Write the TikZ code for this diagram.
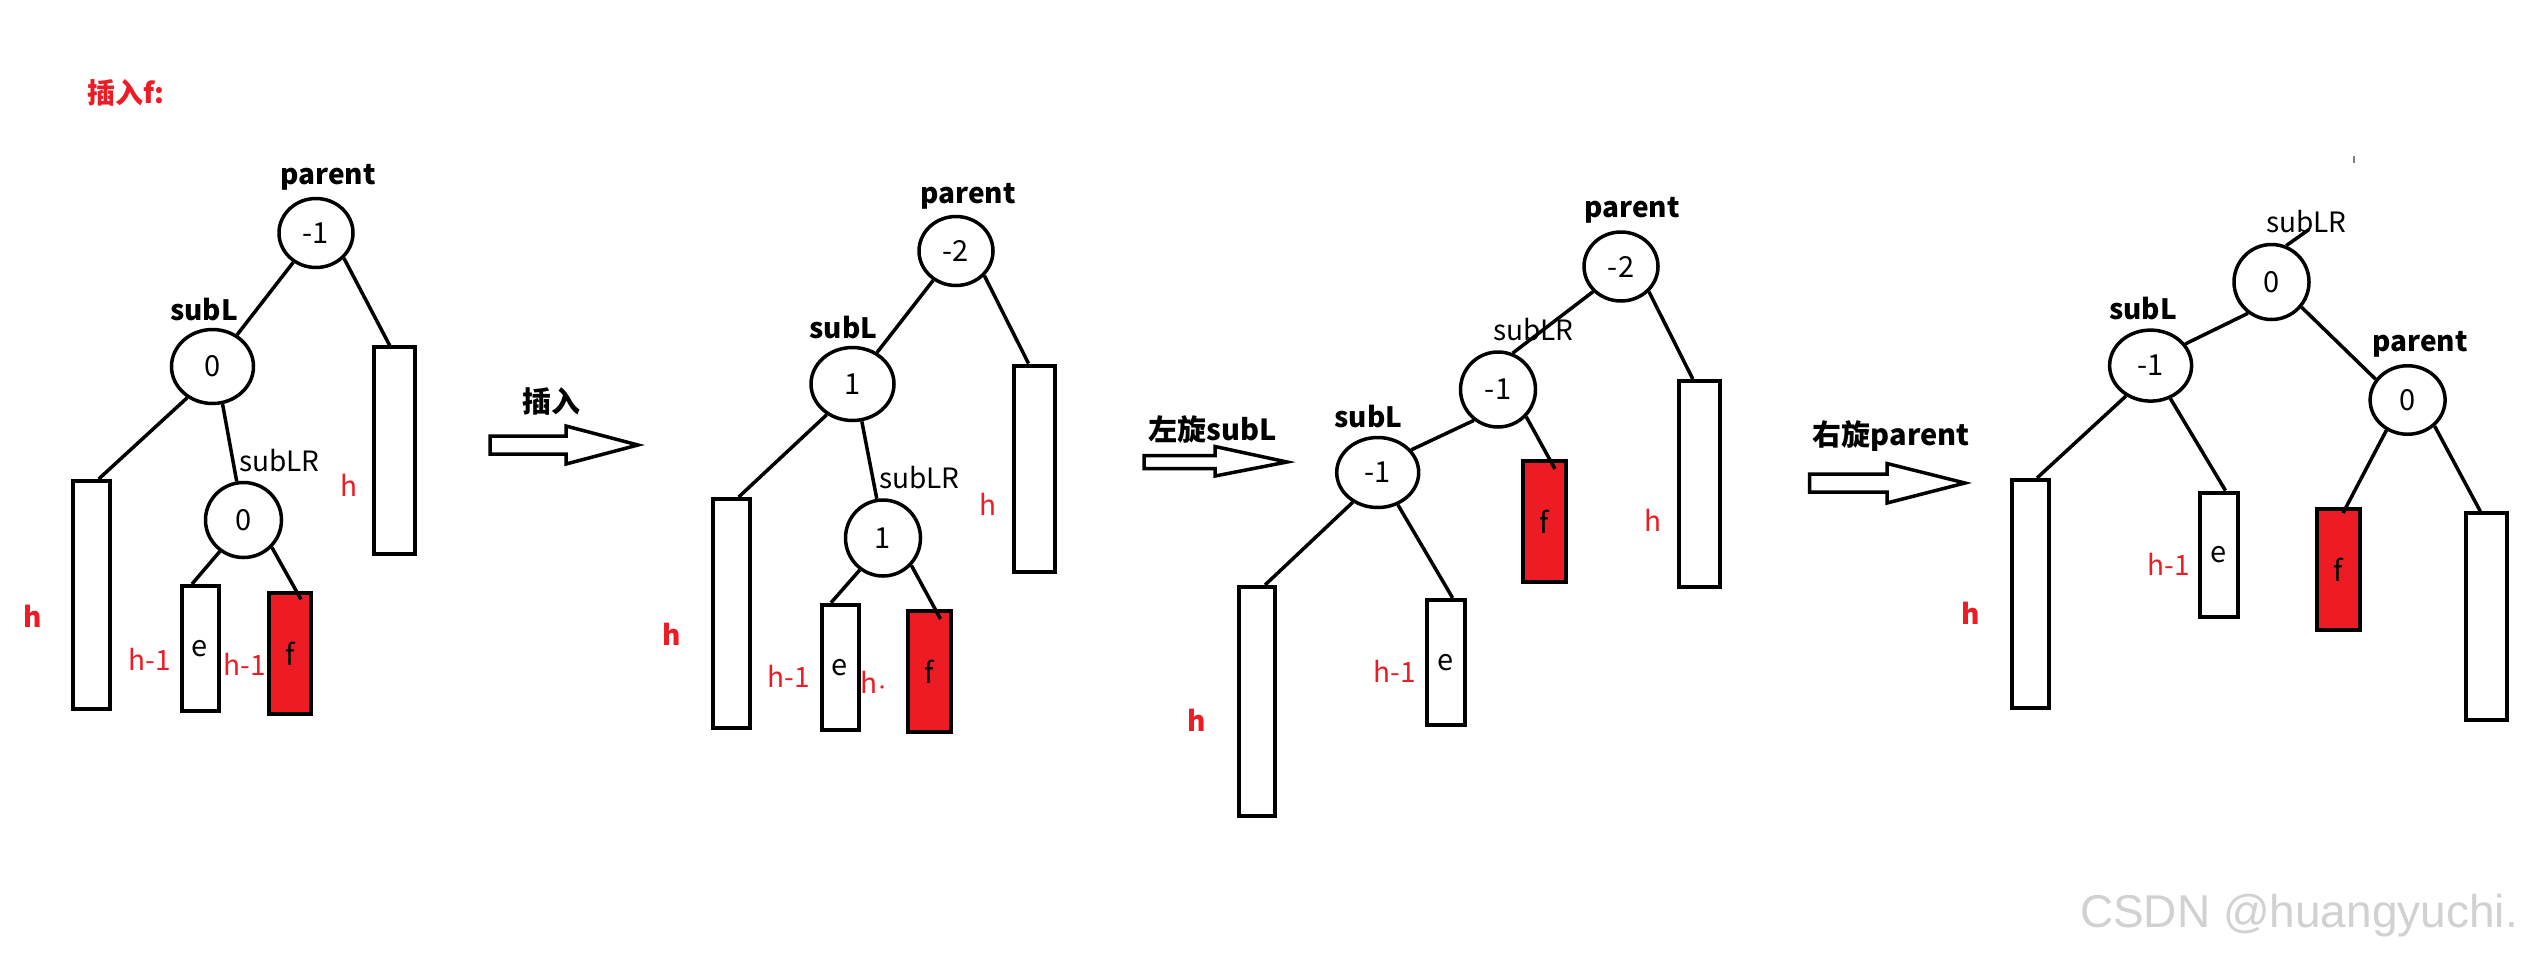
\documentclass[tikz,border=0pt]{standalone}
\usepackage{fontspec}
\setmainfont{Noto Sans CJK SC}
\newfontfamily\wmfont{Liberation Sans}
\usetikzlibrary{shapes.geometric,calc}
\definecolor{pred}{RGB}{237,28,36}
\begin{document}
\begin{tikzpicture}[x=1pt,y=-1pt,
  bal/.style={draw,ellipse,line width=3.5pt,inner sep=0pt,font=\fontsize{29}{30}\selectfont},
  sub/.style={draw,rectangle,line width=4pt,inner sep=0pt,font=\fontsize{29}{30}\selectfont},
  redbox/.style={sub,fill=pred},
  edge/.style={line width=3.5pt},
  lbl/.style={inner sep=0pt,font=\bfseries\fontsize{28}{30}\selectfont},
  albl/.style={inner sep=0pt,font=\bfseries\fontsize{29}{30}\selectfont},
  lblr/.style={inner sep=0pt,font=\fontsize{28}{30}\selectfont},
  hb/.style={inner sep=0pt,text=pred,font=\bfseries\fontsize{28}{30}\selectfont},
  hr/.style={inner sep=0pt,text=pred,font=\fontsize{28}{30}\selectfont},
  bigarrow/.style={line width=3.5pt,fill=white,line join=miter},
]
\fill[white] (0,0) rectangle (2527,954);
\useasboundingbox (0,0) rectangle (2527,954);

% ---------- panel 1 ----------
\node[lbl,text=pred] (T0) at (126,93) {插入f:};
\node[bal,minimum width=74,minimum height=69] (P1) at (316,233) {-1};
\node[bal,minimum width=82,minimum height=74] (S1) at (212.5,366.5) {0};
\node[bal,minimum width=76,minimum height=75] (R1) at (243.5,520) {0};
\node[sub,minimum width=37,minimum height=228] (A1) at (91.7,595) {};
\node[sub,minimum width=41.5,minimum height=206.5] (B1) at (394.7,450.7) {};
\node[sub,minimum width=37,minimum height=125] (E1) at (200,648.5) {e};
\node[redbox,minimum width=42,minimum height=120.5] (F1) at (290,653.7) {f};
\draw[edge] (P1) -- (S1);
\draw[edge] (P1.318) -- ([xshift=-5]B1.north);
\draw[edge] (S1.231) -- ([xshift=7]A1.north);
\draw[edge] (S1.285) -- (R1.100);
\draw[edge] (R1.233) -- ([xshift=-8]E1.north);
\draw[edge] (R1.316) -- ([xshift=11,yshift=-8]F1.north);
\node[lbl] (L1p) at (328,177) {parent};
\node[lbl] (L1s) at (204,310) {subL};
\node[lblr] (L1r) at (279.5,461) {subLR};
\node[hb] (H1a) at (32.7,616) {h};
\node[hr] (H1b) at (349,485) {h};
\node[hr] (H1c) at (149.5,659) {h-1};
\node[hr] (H1d) at (244.5,664) {h-1};

% arrow 1
\node[albl] (AL1) at (551,401) {插入};
\draw[bigarrow] (490,436) -- (566,436) -- (566,426) -- (638,445) -- (566,464) -- (566,454) -- (490,454) -- cycle;

% ---------- panel 2 ----------
\node[bal,minimum width=74,minimum height=69] (P2) at (956,251) {-2};
\node[bal,minimum width=83,minimum height=73] (S2) at (852.5,384) {1};
\node[bal,minimum width=75,minimum height=76] (R2) at (883,538) {1};
\node[sub,minimum width=37,minimum height=229] (A2) at (731.7,613.5) {};
\node[sub,minimum width=41,minimum height=206.5] (B2) at (1034.5,468.75) {};
\node[sub,minimum width=37,minimum height=125] (E2) at (840,667.2) {e};
\node[redbox,minimum width=43,minimum height=120.6] (F2) at (929.5,671.3) {f};
\draw[edge] (P2) -- (S2);
\draw[edge] (P2.319) -- ([xshift=-6]B2.north);
\draw[edge] (S2.230) -- ([xshift=7]A2.north);
\draw[edge] (S2.284) -- (R2.99);
\draw[edge] (R2.234) -- ([xshift=-9]E2.north);
\draw[edge] (R2.316) -- ([xshift=11,yshift=-10]F2.north);
\node[lbl] (L2p) at (968,196) {parent};
\node[lbl] (L2s) at (843.5,328) {subL};
\node[lblr] (L2r) at (919.5,478) {subLR};
\node[hr] (H2b) at (988,504) {h};
\node[hb] (H2a) at (672,634) {h};
\node[hr] (H2c) at (789,676) {h-1};
\node[hr] (H2d) at (875,682) {h\kern-3pt{\fontsize{16}{16}\selectfont·}};

% arrow 2
\node[albl] (AL2) at (1213,429) {左旋subL};
\draw[bigarrow] (1144,455.5) -- (1215,455.5) -- (1215,446.5) -- (1287,462) -- (1215,476) -- (1215,468.5) -- (1144,468.5) -- cycle;

% ---------- panel 3 ----------
\node[bal,minimum width=74,minimum height=69] (P3) at (1621,266.5) {-2};
\node[bal,minimum width=75,minimum height=75] (R3) at (1498,389.5) {-1};
\node[bal,minimum width=82,minimum height=70] (S3) at (1377.7,472.5) {-1};
\node[sub,minimum width=36,minimum height=229] (A3) at (1257,701.5) {};
\node[sub,minimum width=38,minimum height=125] (E3) at (1446,662.4) {e};
\node[redbox,minimum width=43,minimum height=121] (F3) at (1544.5,521.5) {f};
\node[sub,minimum width=41,minimum height=206] (B3) at (1699.4,484) {};
\draw[edge] (P3.222) -- (R3.68);
\draw[edge] (P3.318) -- ([xshift=-6.6]B3.north);
\draw[edge] (R3.232) -- (S3.34);
\draw[edge] (R3.316) -- ([xshift=10.5,yshift=-10]F3.north);
\draw[edge] (S3.230) -- ([xshift=8]A3.north);
\draw[edge] (S3.302) -- ([xshift=6.6]E3.north);
\node[lbl] (L3p) at (1632,210) {parent};
\node[lblr] (L3r) at (1533.5,330) {subLR};
\node[lbl] (L3s) at (1368.5,417) {subL};
\node[hr] (H3b) at (1652.6,520.5) {h};
\node[hb] (H3a) at (1196.8,720.5) {h};
\node[hr] (H3c) at (1395,671) {h-1};

% arrow 3
\node[albl] (AL3) at (1891,435.6) {右旋parent};
\draw[bigarrow] (1809.5,474) -- (1887,474) -- (1887,463.5) -- (1965,483) -- (1887,503) -- (1887,492) -- (1809.5,492) -- cycle;

% ---------- panel 4 ----------
\node[bal,minimum width=75,minimum height=75] (R4) at (2271.5,282) {0};
\node[bal,minimum width=82,minimum height=71] (S4) at (2150.6,365.6) {-1};
\node[bal,minimum width=75,minimum height=68.5] (P4) at (2407.6,400) {0};
\node[sub,minimum width=37,minimum height=228] (A4) at (2030.3,594) {};
\node[sub,minimum width=37.5,minimum height=124.5] (E4) at (2219,554.85) {e};
\node[redbox,minimum width=43,minimum height=120.7] (F4) at (2338.5,569.35) {f};
\node[sub,minimum width=41,minimum height=206.6] (B4) at (2486.35,616.7) {};
\coordinate (R4t) at (2309,229.5);
\draw[edge] (R4.233) -- (S4.32);
\draw[edge] (R4.320) -- (P4.147);
\draw[edge] (R4.68) -- (R4t);
\draw[edge] (S4.231) -- ([xshift=6.7]A4.north);
\draw[edge] (S4.301) -- ([xshift=6.5]E4.north);
\draw[edge] (P4.235) -- ([xshift=4.5,yshift=-6]F4.north);
\draw[edge] (P4.316) -- ([xshift=-6]B4.north);
\node[lblr] (L4r) at (2306.5,222) {subLR};
\node[lbl] (L4s) at (2143,309) {subL};
\node[lbl] (L4p) at (2420,344) {parent};
\node[hb] (H4a) at (1970.6,613) {h};
\node[hr] (H4c) at (2169,564) {h-1};
\draw[line width=1.5pt,gray] (2354,156) -- (2354,163);

% watermark
\node[inner sep=0pt,text=black!18,font=\wmfont\fontsize{46}{50}\selectfont] (WM) at (2299,916) {CSDN @huangyuchi.};
\end{tikzpicture}
\end{document}
